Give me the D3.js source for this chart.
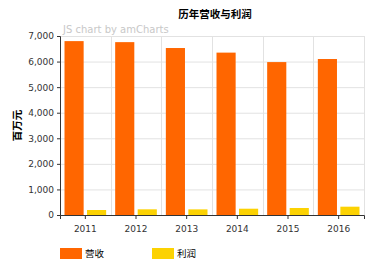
<!DOCTYPE html>
<html><head><meta charset="utf-8">
<script src="https://cdn.jsdelivr.net/npm/d3@7"></script>
<style>body{margin:0;background:#fff}svg{display:block}</style>
</head><body>
<script>
const categories = ["2011","2012","2013","2014","2015","2016"];
const revenue = [6800, 6760, 6530, 6350, 5980, 6100];
const profit = [195, 222, 220, 246, 274, 325];
const seriesNames = ["营收","利润"];
const seriesColors = ["#FF6600","#FCD202"];
const yTicks = [0,1000,2000,3000,4000,5000,6000,7000];
const title = "历年营收与利润";
const yTitle = "百万元";

const W=381,H=270, m={l:60,r:17,t:36,b:55};
const svg=d3.select("body").append("svg").attr("width",W).attr("height",H);
const x=d3.scaleBand().domain(categories).range([m.l,W-m.r]);
const xs=d3.scaleBand().domain([0,1]).range([0,x.bandwidth()]).paddingInner(0.15).paddingOuter(0.2);
const y=d3.scaleLinear().domain([0,7000]).range([H-m.b,m.t]);
const font="DejaVu Sans, Verdana, sans-serif";
const cjk="'Noto Sans CJK SC', sans-serif";

// grid
const g=svg.append("g");
g.selectAll(".hg").data(yTicks).join("line").attr("x1",m.l).attr("x2",W-m.r)
 .attr("y1",d=>y(d)+0.5).attr("y2",d=>y(d)+0.5).attr("stroke","#e2e2e2");
const vb=categories.map(c=>x(c)).concat([W-m.r]);
g.selectAll(".vg").data(vb).join("line").attr("x1",d=>Math.round(d)+0.5).attr("x2",d=>Math.round(d)+0.5)
 .attr("y1",m.t).attr("y2",H-m.b).attr("stroke","#e2e2e2");

// watermark
svg.append("text").attr("x",63).attr("y",33).text("JS chart by amCharts")
 .attr("font-family",font).attr("font-size",10).attr("fill","#c8c8c8");

// bars
const data=[revenue,profit];
data.forEach((arr,si)=>{
  svg.append("g").selectAll("rect").data(arr).join("rect")
   .attr("x",(d,i)=>x(categories[i])+xs(si)).attr("width",xs.bandwidth())
   .attr("y",d=>y(d)).attr("height",d=>y(0)-y(d)).attr("fill",seriesColors[si]);
});

// axes
const ya=svg.append("g").attr("transform",`translate(${m.l},0)`)
 .call(d3.axisLeft(y).tickValues(yTicks).tickFormat(d3.format(",")).tickSize(3).tickPadding(3));
const xa=svg.append("g").attr("transform",`translate(0,${H-m.b})`)
 .call(d3.axisBottom(x).tickSize(4).tickPadding(7));
[ya,xa].forEach(a=>{
  a.select(".domain").attr("stroke","#333");
  a.selectAll(".tick line").attr("stroke","#333");
  a.selectAll("text").attr("font-family",font).attr("font-size",9).attr("fill","#333");
});

// title
svg.append("text").attr("x",(m.l+W-m.r)/2+3).attr("y",18).attr("text-anchor","middle")
 .text(title).attr("font-family",cjk).attr("font-weight","bold").attr("font-size",10.5).attr("fill","#000");
svg.append("text").attr("transform",`translate(21,${(m.t+H-m.b)/2}) rotate(-90)`).attr("text-anchor","middle")
 .text(yTitle).attr("font-family",cjk).attr("font-weight","bold").attr("font-size",10.5).attr("fill","#000");

// legend
const lg=svg.append("g").selectAll("g").data(seriesNames).join("g")
 .attr("transform",(d,i)=>`translate(${60+i*92},248)`);
lg.append("rect").attr("width",22).attr("height",11).attr("fill",(d,i)=>seriesColors[i]);
lg.append("text").attr("x",25).attr("y",9).text(d=>d)
 .attr("font-family",cjk).attr("font-size",9.5).attr("fill","#000");
</script>
</body></html>
